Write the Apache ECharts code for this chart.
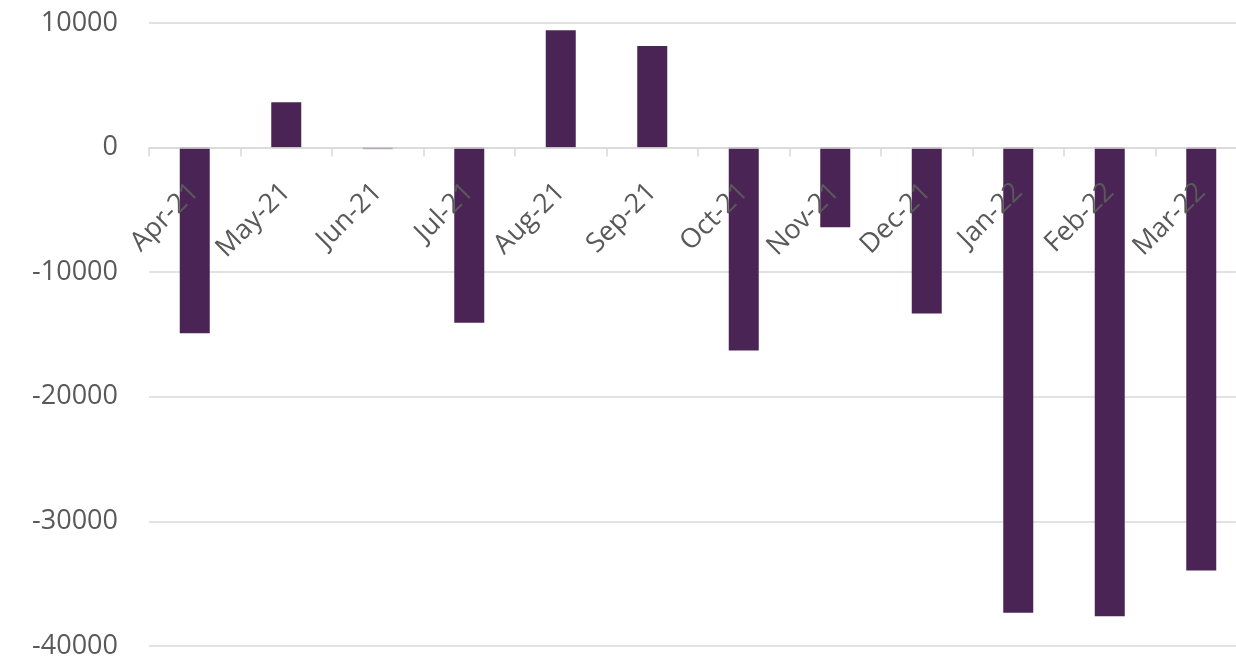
<!DOCTYPE html>
<html>
<head>
<meta charset="utf-8">
<script src="https://cdn.jsdelivr.net/npm/echarts@6/dist/echarts.min.js"></script>
<style>
html,body{margin:0;padding:0;background:#fff;}
#chart{width:1236px;height:661px;}
</style>
</head>
<body>
<div id="chart"></div>
<script>
const categories = ['Apr-21','May-21','Jun-21','Jul-21','Aug-21','Sep-21','Oct-21','Nov-21','Dec-21','Jan-22','Feb-22','Mar-22'];
const values = [-14900, 3640, -120, -14060, 9420, 8160, -16280, -6400, -13310, -37330, -37620, -33950];
const yTicks = { min: -40000, max: 10000, interval: 10000 };

const W = 1236, H = 661;
const gridTop = 23, gridBottom = 15;
const gridH = H - gridTop - gridBottom;
// move the category axis (line, ticks, labels) up to the zero line
const zeroOffset = -gridH * (0 - yTicks.min) / (yTicks.max - yTicks.min);

const chart = echarts.init(document.getElementById('chart'), null, {renderer:'canvas'});
chart.setOption({
  animation: false,
  backgroundColor: '#ffffff',
  grid: { left: 149, right: -11, top: gridTop, bottom: gridBottom, containLabel: false, outerBoundsMode: 'none' },
  xAxis: {
    type: 'category',
    data: categories,
    z: 5,
    offset: zeroOffset,
    axisLine: { show: true, onZero: false, lineStyle: { color: '#D9D9D9', width: 1.5 } },
    axisTick: { show: true, length: 9, alignWithLabel: false, lineStyle: { color: '#D9D9D9', width: 1.5 } },
    axisLabel: {
      interval: 0, rotate: 45, margin: 40, hideOverlap: false,
      color: '#595959', fontFamily: 'Open Sans', fontSize: 27
    },
    splitLine: { show: false }
  },
  yAxis: {
    type: 'value',
    min: yTicks.min, max: yTicks.max, interval: yTicks.interval,
    axisLine: { show: false },
    axisTick: { show: false },
    axisLabel: { color: '#595959', fontFamily: 'Open Sans', fontSize: 27, margin: 31,
      formatter: function (v) { return String(v); } },
    splitLine: { lineStyle: { color: '#D9D9D9', width: 1.5 } }
  },
  series: [{
    type: 'bar',
    data: values,
    barWidth: 30,
    itemStyle: { color: '#4B2456' }
  }]
});
</script>
</body>
</html>
